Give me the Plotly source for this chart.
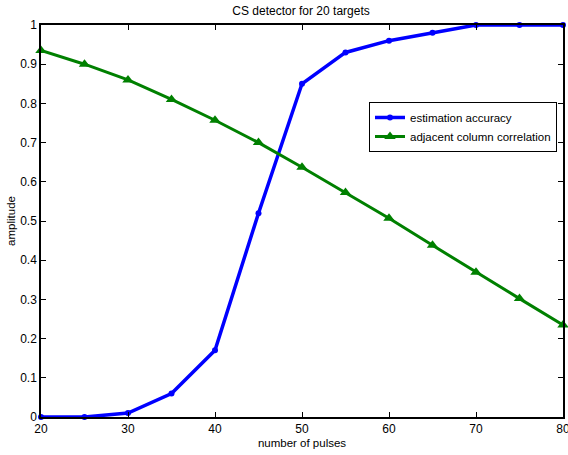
import plotly.graph_objects as go

pulses = [20, 25, 30, 35, 40, 45, 50, 55, 60, 65, 70, 75, 80]
estimation_accuracy = [0, 0, 0.01, 0.06, 0.17, 0.52, 0.85, 0.93, 0.96, 0.98, 1.0, 1.0, 1.0]
adjacent_corr = [0.935, 0.90, 0.86, 0.81, 0.757, 0.70, 0.637, 0.573, 0.507, 0.438, 0.369, 0.302, 0.235]
x_ticks = [20, 30, 40, 50, 60, 70, 80]
y_ticks = [0, 0.1, 0.2, 0.3, 0.4, 0.5, 0.6, 0.7, 0.8, 0.9, 1]
y_tick_text = ["0", "0.1", "0.2", "0.3", "0.4", "0.5", "0.6", "0.7", "0.8", "0.9", "1"]

fig = go.Figure()
fig.add_trace(go.Scatter(
    x=pulses, y=estimation_accuracy, mode="lines+markers",
    name="estimation accuracy",
    line=dict(color="#0000ff", width=3.5),
    marker=dict(symbol="circle", size=6, color="#0000ff"),
    cliponaxis=False,
))
fig.add_trace(go.Scatter(
    x=pulses, y=adjacent_corr, mode="lines+markers",
    name="adjacent column correlation",
    line=dict(color="#008000", width=3),
    marker=dict(symbol="triangle-up", size=10, color="#008000"),
    cliponaxis=False,
))

font_family = "Liberation Sans, Arial, sans-serif"
axis_common = dict(
    showgrid=False, zeroline=False, showline=True, linecolor="black", linewidth=1.5,
    mirror="ticks", ticks="inside", ticklen=5, tickcolor="black", automargin=False,
    ticklabeloverflow="allow",
    tickfont=dict(family=font_family, size=12, color="black"),
)
fig.update_layout(
    width=568, height=455,
    margin=dict(l=41, r=5, t=25, b=38),
    paper_bgcolor="white", plot_bgcolor="white",
    title=dict(text="CS detector for 20 targets", x=0.53, xanchor="center", y=0.985, yanchor="top",
               font=dict(family=font_family, size=12, color="black")),
    xaxis=dict(range=[20, 80], tickvals=x_ticks, ticktext=[str(v) for v in x_ticks],
               title=dict(text="number of pulses", standoff=4,
                          font=dict(family=font_family, size=11.5, color="black")),
               **axis_common),
    yaxis=dict(range=[0, 1], tickvals=y_ticks, ticktext=y_tick_text,
               title=dict(text="amplitude", standoff=2,
                          font=dict(family=font_family, size=11.5, color="black")),
               **axis_common),
    legend=dict(x=0.9885, y=0.8036, xanchor="right", yanchor="top",
                bgcolor="white", bordercolor="black", borderwidth=1,
                font=dict(family=font_family, size=11.5, color="black"),
                itemwidth=30, tracegroupgap=0),
    showlegend=True,
)

fig.write_html("out.html")
